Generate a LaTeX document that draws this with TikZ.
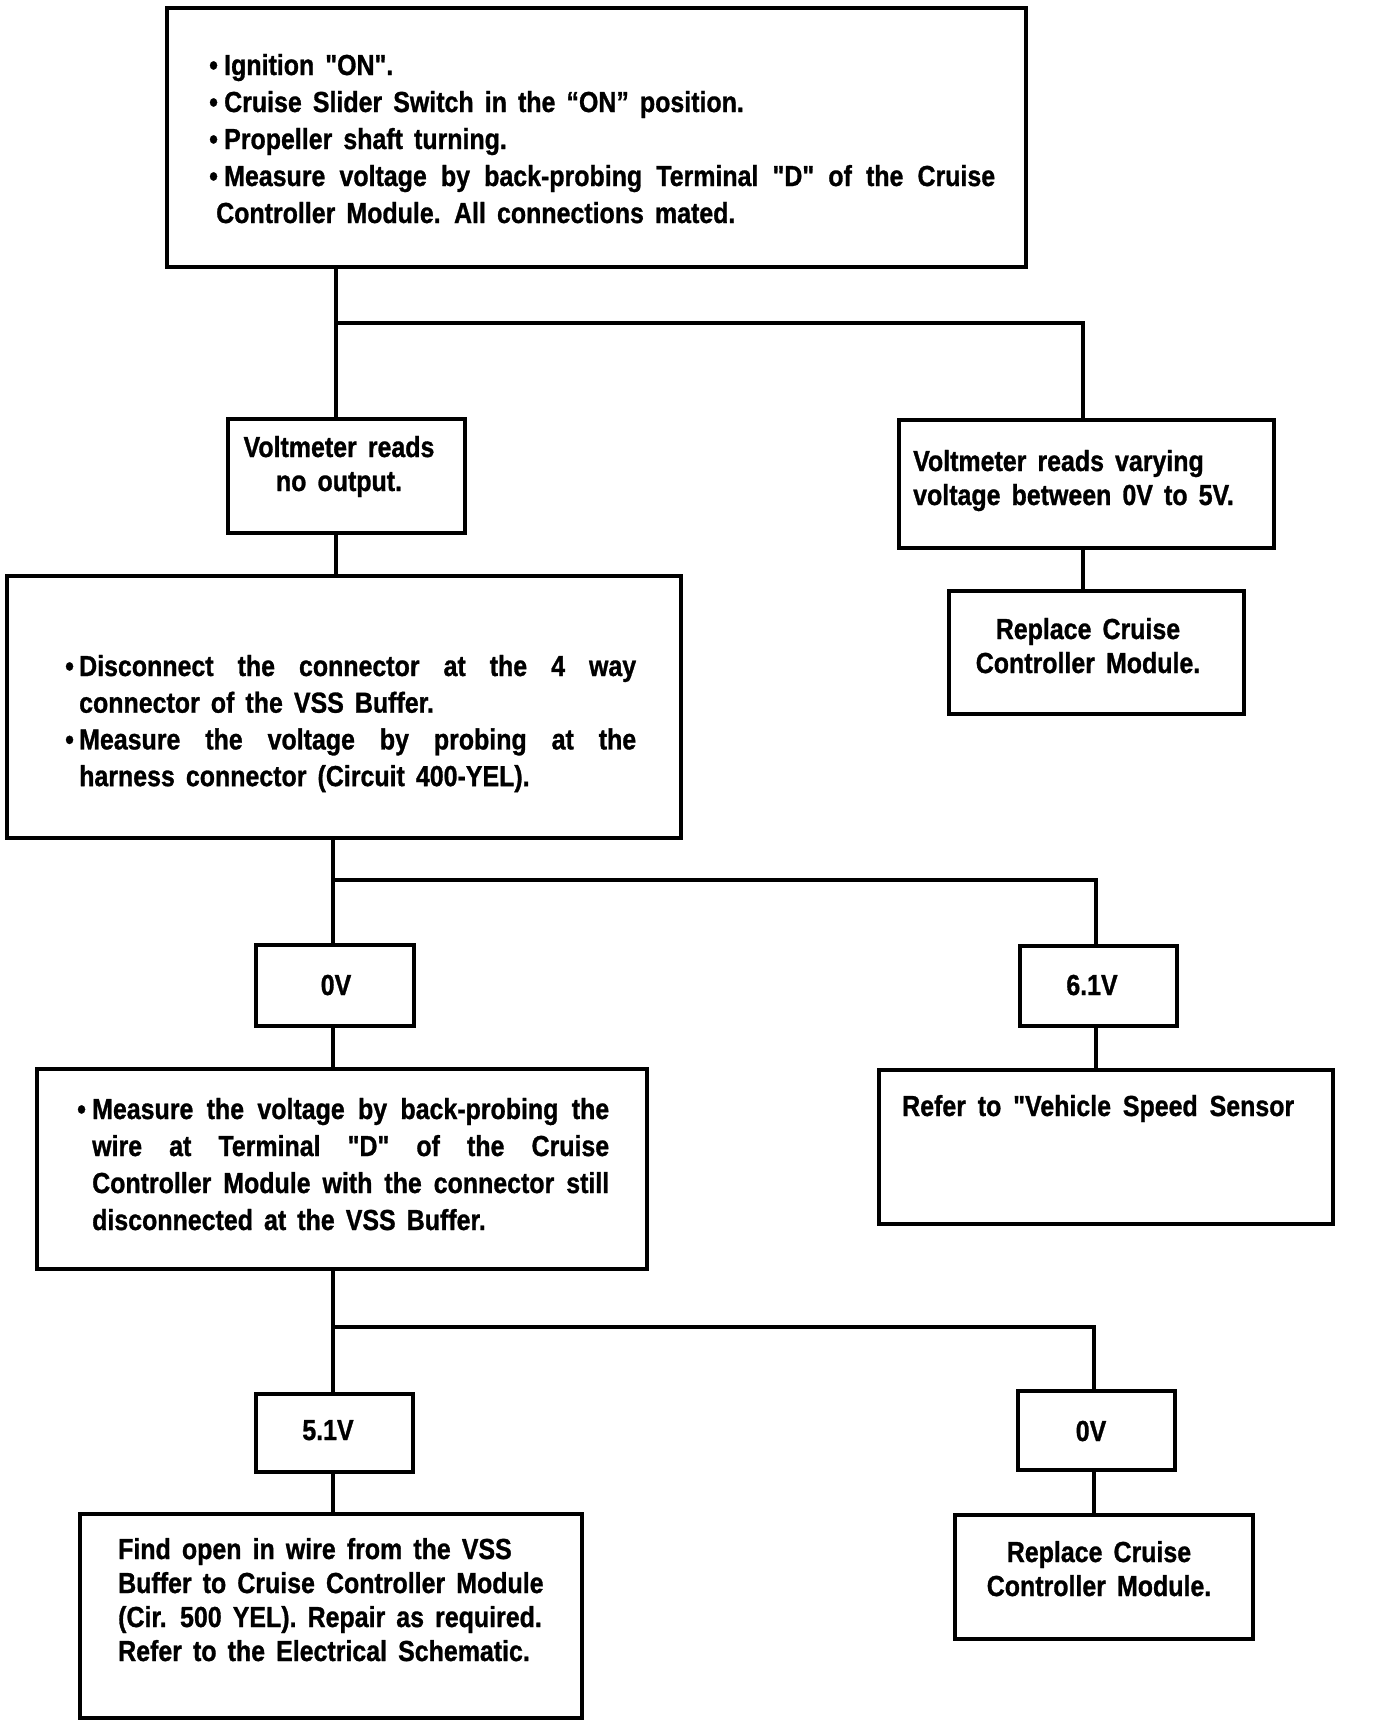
\documentclass[tikz,border=0pt]{standalone}
\usepackage{fontspec}
\setmainfont{Liberation Sans}[Ligatures=TeXOff,FakeStretch=0.86,WordSpace=1.6,FakeBold=1]
\newlength\bw
\newcommand\bul{\makebox[\bw][l]{•}}
\newcommand\jus[2]{\makebox[#1][s]{#2}}
\begin{document}
\begin{tikzpicture}[x=1pt,y=-1pt,
  box/.style={draw, line width=3.8pt, inner sep=0pt, anchor=north west},
  txt/.style={inner sep=0pt, anchor=base west, font=\bfseries},
  ctxt/.style={inner sep=0pt, anchor=base, font=\bfseries},
  wire/.style={line width=3.8pt}]
\useasboundingbox (0,0) rectangle (1376,1730);
% boxes
\node[box, minimum width=859pt, minimum height=259pt] (b1) at (165,6) {};
\node[box, minimum width=237pt, minimum height=114pt] (b2) at (226,417) {};
\node[box, minimum width=375pt, minimum height=128pt] (b3) at (897,418) {};
\node[box, minimum width=295pt, minimum height=123pt] (b4) at (947,589) {};
\node[box, minimum width=674pt, minimum height=262pt] (b5) at (5,574) {};
\node[box, minimum width=158pt, minimum height=81pt] (b6) at (254,943) {};
\node[box, minimum width=157pt, minimum height=80pt] (b7) at (1018,944) {};
\node[box, minimum width=610pt, minimum height=200pt] (b8) at (35,1067) {};
\node[box, minimum width=454pt, minimum height=154pt] (b9) at (877,1068) {};
\node[box, minimum width=157pt, minimum height=78pt] (b10) at (254,1392) {};
\node[box, minimum width=157pt, minimum height=79pt] (b11) at (1016,1389) {};
\node[box, minimum width=502pt, minimum height=204pt] (b12) at (78,1512) {};
\node[box, minimum width=298pt, minimum height=124pt] (b13) at (953,1513) {};
% texts
\node[txt] (t1) at (209,75) {\fontsize{29}{37}\selectfont\parbox[t]{800pt}{\setlength\bw{15pt}%
\bul Ignition "ON".\\
\bul Cruise Slider Switch in the “ON” position.\\
\bul Propeller shaft turning.\\
\bul\jus{771pt}{Measure voltage by back-probing Terminal "D" of the Cruise}\\
\hspace*{7pt}Controller Module. All connections mated.}};
\node[ctxt] (t2) at (339,457) {\fontsize{29}{34}\selectfont\parbox[t]{230pt}{\centering
Voltmeter reads\\ no output.}};
\node[txt] (t3) at (913,471) {\fontsize{29}{34}\selectfont\parbox[t]{360pt}{%
Voltmeter reads varying\\ voltage between 0V to 5V.}};
\node[ctxt] (t4) at (1088,639) {\fontsize{29}{34}\selectfont\parbox[t]{290pt}{\centering
Replace Cruise\\ Controller Module.}};
\node[txt] (t5) at (65,676) {\fontsize{29}{36.7}\selectfont\parbox[t]{600pt}{\setlength\bw{14pt}%
\bul\jus{557pt}{Disconnect the connector at the 4 way}\\
\hspace*{\bw}connector of the VSS Buffer.\\
\bul\jus{557pt}{Measure the voltage by probing at the}\\
\hspace*{\bw}harness connector (Circuit 400-YEL).}};
\node[ctxt] (t6) at (336,995) {\fontsize{29}{34}\selectfont 0V};
\node[ctxt] (t7) at (1092,995) {\fontsize{29}{34}\selectfont 6.1V};
\node[txt] (t8) at (77,1119) {\fontsize{29}{37}\selectfont\parbox[t]{560pt}{\setlength\bw{15pt}%
\bul\jus{517pt}{Measure the voltage by back-probing the}\\
\hspace*{\bw}\jus{517pt}{wire at Terminal "D" of the Cruise}\\
\hspace*{\bw}\jus{517pt}{Controller Module with the connector still}\\
\hspace*{\bw}disconnected at the VSS Buffer.}};
\node[txt] (t9) at (902,1116) {\fontsize{29}{34}\selectfont\jus{392pt}{Refer to "Vehicle Speed Sensor}};
\node[ctxt] (t10) at (328,1440) {\fontsize{29}{34}\selectfont 5.1V};
\node[ctxt] (t11) at (1091,1441) {\fontsize{29}{34}\selectfont 0V};
\node[txt] (t12) at (118,1559) {\fontsize{29}{34}\selectfont\parbox[t]{460pt}{%
Find open in wire from the VSS\\
Buffer to Cruise Controller Module\\
(Cir. 500 YEL). Repair as required.\\
Refer to the Electrical Schematic.}};
\node[ctxt] (t13) at (1099,1562) {\fontsize{29}{34}\selectfont\parbox[t]{290pt}{\centering
Replace Cruise\\ Controller Module.}};
% junctions
\coordinate (j1) at (336,323);
\coordinate (k1) at (1083,323);
\coordinate (j2) at (333,880);
\coordinate (k2) at (1096,880);
\coordinate (j3) at (333,1327);
\coordinate (k3) at (1094,1327);
% connectors
\draw[wire] (b1.south -| j1) -- (b2.north -| j1);
\draw[wire] (j1) -- (k1) -- (b3.north -| k1);
\draw[wire] (b3.south -| k1) -- (b4.north -| k1);
\draw[wire] (b2.south -| j1) -- (b5.north -| j1);
\draw[wire] (b5.south -| j2) -- (b6.north -| j2);
\draw[wire] (j2) -- (k2) -- (b7.north -| k2);
\draw[wire] (b6.south -| j2) -- (b8.north -| j2);
\draw[wire] (b7.south -| k2) -- (b9.north -| k2);
\draw[wire] (b8.south -| j3) -- (b10.north -| j3);
\draw[wire] (j3) -- (k3) -- (b11.north -| k3);
\draw[wire] (b10.south -| j3) -- (b12.north -| j3);
\draw[wire] (b11.south -| k3) -- (b13.north -| k3);
\end{tikzpicture}
\end{document}
